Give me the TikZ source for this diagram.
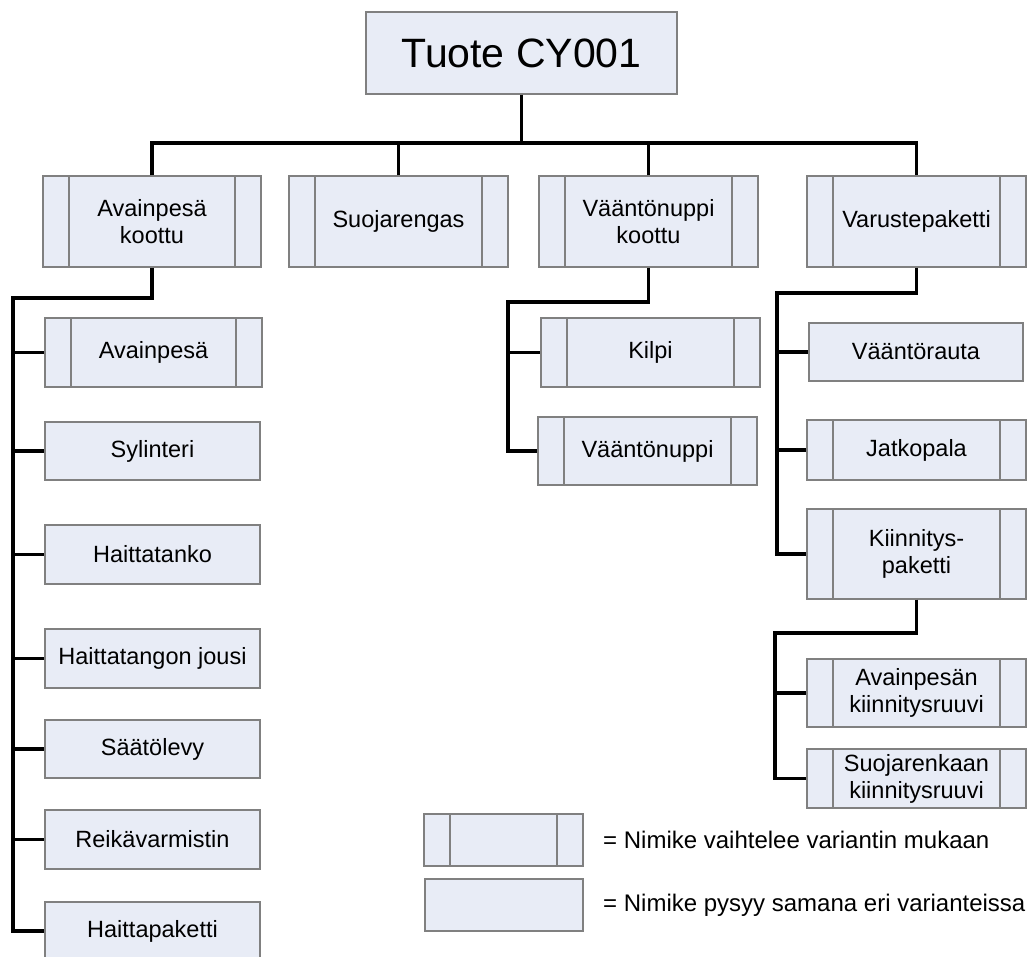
\documentclass[tikz,border=0pt]{standalone}
\usepackage{fontspec}
\setmainfont{Liberation Sans}
\definecolor{boxfill}{RGB}{232,236,246}
\definecolor{boxline}{RGB}{128,128,128}
\begin{document}
\begin{tikzpicture}[x=1pt,y=-1pt,
  base/.style={rectangle, draw=boxline, line width=1.2pt, fill=boxfill, inner sep=0pt, align=center,
    font=\fontsize{23.5}{27}\selectfont},
  pbox/.style={base},
  vbox/.style={base, path picture={
    \draw[boxline, line width=1.2pt] ([xshift=26pt]path picture bounding box.north west) -- ([xshift=26pt]path picture bounding box.south west);
    \draw[boxline, line width=1.2pt] ([xshift=-26pt]path picture bounding box.north east) -- ([xshift=-26pt]path picture bounding box.south east);}},
  conn/.style={line width=3.5pt, line join=miter},
  legtext/.style={anchor=west, inner sep=0pt, font=\fontsize{24}{27}\selectfont}]
\useasboundingbox (0,0) rectangle (1033,956);
\fill[white] (0,0) rectangle (1033,956);

% top
\node[pbox, minimum width=311pt, minimum height=82pt, font=\fontsize{41}{45}\selectfont] (top) at (521.5,53) {Tuote CY001};

% second row
\node[vbox, minimum width=218pt, minimum height=91pt] (akoot) at (152,221.5) {Avainpesä\\koottu};
\node[vbox, minimum width=219pt, minimum height=91pt] (suoj) at (398.5,221.5) {Suojarengas};
\node[vbox, minimum width=219pt, minimum height=91pt] (vkoot) at (648.5,221.5) {Vääntönuppi\\koottu};
\node[vbox, minimum width=219pt, minimum height=91pt] (varus) at (916.5,221.5) {Varustepaketti};

% left column
\node[vbox, minimum width=217pt, minimum height=69pt] (avp) at (153.5,352.5) {Avainpesä};
\node[pbox, minimum width=215pt, minimum height=58pt] (syl) at (152.5,451) {Sylinteri};
\node[pbox, minimum width=215pt, minimum height=59pt] (hta) at (152.5,554.5) {Haittatanko};
\node[pbox, minimum width=215pt, minimum height=59pt] (htj) at (152.5,658.5) {Haittatangon jousi};
\node[pbox, minimum width=215pt, minimum height=58pt] (sat) at (152.5,749) {Säätölevy};
\node[pbox, minimum width=215pt, minimum height=59pt] (rei) at (152.5,839.5) {Reikävarmistin};
\node[pbox, minimum width=215pt, minimum height=58pt] (hpk) at (152.5,931) {Haittapaketti};

% middle column
\node[vbox, minimum width=219pt, minimum height=69pt] (kilpi) at (650.5,352.5) {Kilpi};
\node[vbox, minimum width=219pt, minimum height=68pt] (vnup) at (647.5,451) {Vääntönuppi};

% right column
\node[pbox, minimum width=214pt, minimum height=58pt] (vrau) at (916,352) {Vääntörauta};
\node[vbox, minimum width=219pt, minimum height=60pt] (jatko) at (916.5,450) {Jatkopala};
\node[vbox, minimum width=219pt, minimum height=90pt] (kiin) at (916.5,554) {Kiinnitys-\\paketti};
\node[vbox, minimum width=219pt, minimum height=68pt] (apk) at (916.5,693) {Avainpesän\\kiinnitysruuvi};
\node[vbox, minimum width=219pt, minimum height=59pt] (srk) at (916.5,778.5) {Suojarenkaan\\kiinnitysruuvi};

% legend
\node[vbox, minimum width=159pt, minimum height=52pt] (leg1) at (503.5,840) {};
\node[pbox, minimum width=158pt, minimum height=52pt] (leg2) at (504,905) {};
\node[legtext] (leg1t) at (603,840) {= Nimike vaihtelee variantin mukaan};
\node[legtext] (leg2t) at (603,905) {= Nimike pysyy samana eri varianteissa};

% connectors
\coordinate (busy) at (0,143);
\draw[conn] (top.south) -- (top.south |- busy);
\draw[conn] (akoot.north) |- (varus.north |- busy) -- (varus.north);
\draw[conn] (suoj.north) -- (suoj.north |- busy);
\draw[conn] (vkoot.north) -- (vkoot.north |- busy);

\coordinate (lt) at (13,298);
\draw[conn] (akoot.south) |- (lt) -- (lt |- hpk.west) -- (hpk.west);
\foreach \n in {avp,syl,hta,htj,sat,rei}
  \draw[conn] (lt |- \n.west) -- (\n.west);

\coordinate (mt) at (508,302);
\draw[conn] (vkoot.south) |- (mt) -- (mt |- vnup.west) -- (vnup.west);
\draw[conn] (mt |- kilpi.west) -- (kilpi.west);

\coordinate (rt) at (777,293);
\draw[conn] (varus.south) |- (rt) -- (rt |- kiin.west) -- (kiin.west);
\draw[conn] (rt |- vrau.west) -- (vrau.west);
\draw[conn] (rt |- jatko.west) -- (jatko.west);

\coordinate (kt) at (775,633);
\draw[conn] (kiin.south) |- (kt) -- (kt |- srk.west) -- (srk.west);
\draw[conn] (kt |- apk.west) -- (apk.west);
\end{tikzpicture}
\end{document}
